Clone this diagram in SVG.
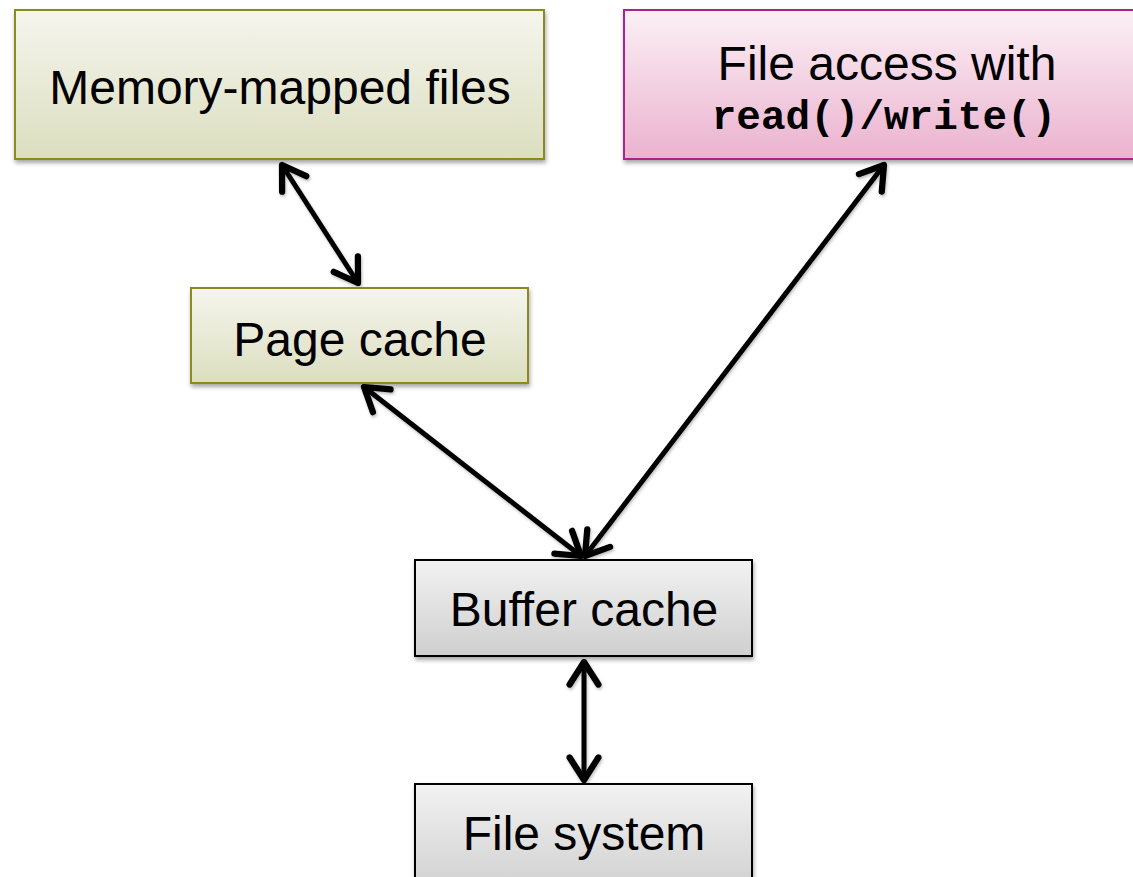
<svg xmlns="http://www.w3.org/2000/svg" width="1133" height="877" viewBox="0 0 1133 877">
<style>
.lbl{font-family:"Liberation Sans",Arial,sans-serif;font-size:48px;fill:#000;text-anchor:middle}
.mono{font-family:"Liberation Mono","Courier New",monospace;font-size:41px;font-weight:bold;fill:#000;text-anchor:middle}
.green{fill:url(#gGreen);stroke:#8a8a20;stroke-width:2;filter:url(#sh)}
.pink{fill:url(#gPink);stroke:#a8268c;stroke-width:2;filter:url(#sh)}
.grey{fill:url(#gGrey);stroke:#000;stroke-width:2;filter:url(#sh)}
.conn{stroke:#000;stroke-width:5;fill:none;marker-start:url(#ah);marker-end:url(#ah)}
</style>
<defs>
<linearGradient id="gGreen" x1="0" y1="0" x2="0" y2="1"><stop offset="0" stop-color="#f5f5ee"/><stop offset="1" stop-color="#dcdebf"/></linearGradient>
<linearGradient id="gPink" x1="0" y1="0" x2="0" y2="1"><stop offset="0" stop-color="#fbf0f5"/><stop offset="1" stop-color="#ebb2cf"/></linearGradient>
<linearGradient id="gGrey" x1="0" y1="0" x2="0" y2="1"><stop offset="0" stop-color="#f2f2f2"/><stop offset="1" stop-color="#cfcfcf"/></linearGradient>
<filter id="sh" x="-10%" y="-10%" width="120%" height="130%"><feDropShadow dx="1" dy="3" stdDeviation="2" flood-color="#000" flood-opacity="0.35"/></filter>
<filter id="sh2" filterUnits="userSpaceOnUse" x="0" y="0" width="1133" height="877"><feDropShadow dx="1" dy="2" stdDeviation="1.5" flood-color="#000" flood-opacity="0.25"/></filter>
<marker id="ah" markerUnits="userSpaceOnUse" markerWidth="40" markerHeight="40" viewBox="-24 -16 30 32" refX="0" refY="0" orient="auto-start-reverse">
<path d="M-18,-11.5 L0,0 L-18,11.5" fill="none" stroke="#000" stroke-width="5" stroke-linecap="round" stroke-linejoin="round"/>
</marker>
</defs>
<rect width="1133" height="877" fill="#fff"/>
<g id="connectors" filter="url(#sh2)">
<line class="conn" x1="282" y1="165" x2="358" y2="283"/>
<line class="conn" x1="364" y1="387" x2="581" y2="556"/>
<line class="conn" x1="884" y1="165" x2="585" y2="556"/>
<line class="conn" x1="584" y1="662" x2="584" y2="780"/>
</g>
<g id="mmap">
<rect class="green" x="15" y="10" width="529" height="149"/>
<text class="lbl" x="280" y="104">Memory-mapped files</text>
</g>
<g id="fileaccess">
<rect class="pink" x="624" y="10" width="520" height="149"/>
<text class="lbl" x="887" y="80">File access with</text>
<text class="mono" x="884" y="129">read()/write()</text>
</g>
<g id="pagecache">
<rect class="green" x="191" y="288" width="337" height="95"/>
<text class="lbl" x="360" y="356">Page cache</text>
</g>
<g id="buffercache">
<rect class="grey" x="415" y="560" width="337" height="96"/>
<text class="lbl" x="584" y="626">Buffer cache</text>
</g>
<g id="filesystem">
<rect class="grey" x="415" y="784" width="337" height="110"/>
<text class="lbl" x="584" y="850">File system</text>
</g>
</svg>
